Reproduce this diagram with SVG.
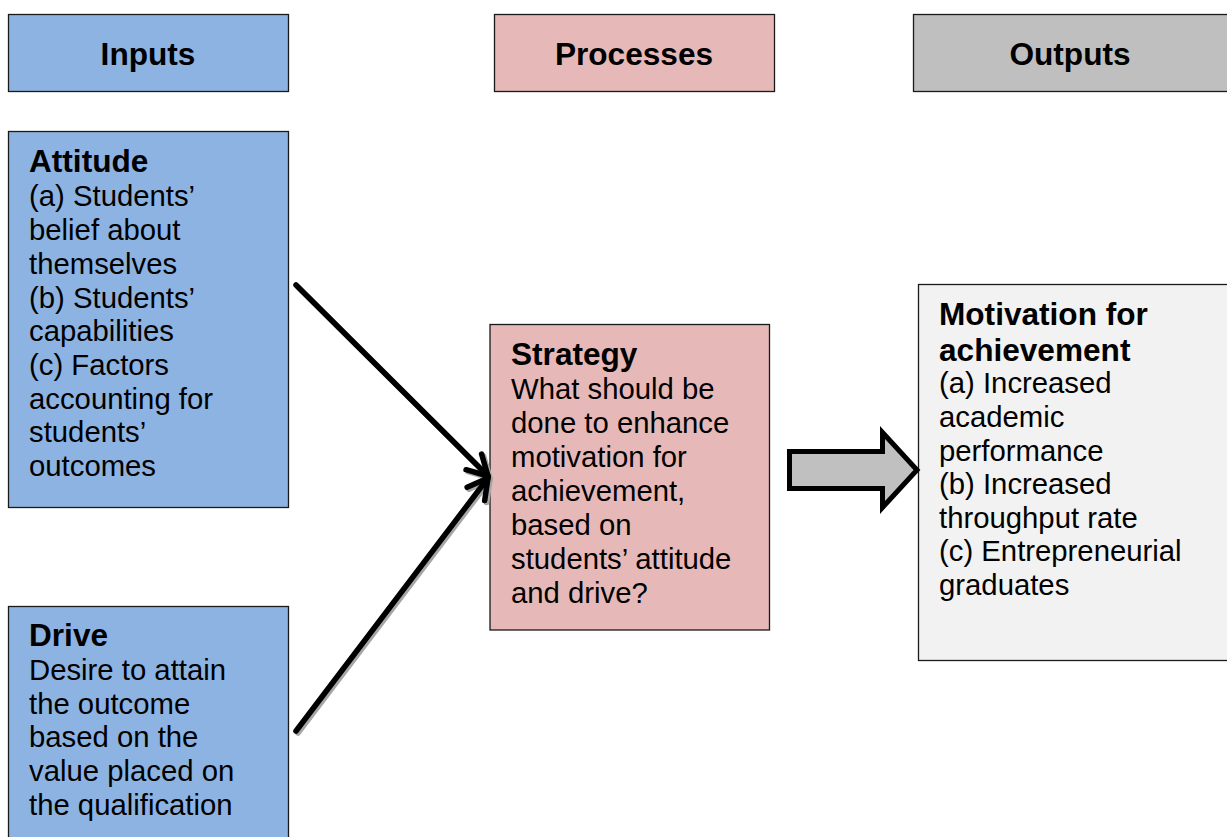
<svg xmlns="http://www.w3.org/2000/svg" width="1227" height="837" viewBox="0 0 1227 837">
<defs>
<style>
.box{stroke:#1a1a1a;stroke-width:1.3}
.t{font-family:"Liberation Sans",Arial,sans-serif;font-size:29.3px;fill:#000}
.b{font-weight:bold;font-size:31.6px}
.hd{font-family:"Liberation Sans",Arial,sans-serif;font-size:31.6px;font-weight:bold;fill:#000;text-anchor:middle}
.ln{fill:none;stroke:#000;stroke-width:5.5;stroke-linecap:round}
.sh{fill:none;stroke:#a6a6a6;stroke-width:5.5;stroke-linecap:round}
</style>
<marker id="ah" viewBox="-30 -20 40 40" markerWidth="40" markerHeight="40" refX="0" refY="0" markerUnits="userSpaceOnUse" orient="auto" overflow="visible">
<path d="M-20,-11 L0,0 L-20,11" fill="none" stroke="#000" stroke-width="5.5" stroke-linecap="round" stroke-linejoin="round"/>
</marker>
<marker id="ahs" viewBox="-30 -20 40 40" markerWidth="40" markerHeight="40" refX="0" refY="0" markerUnits="userSpaceOnUse" orient="auto" overflow="visible">
<path d="M-20,-11 L0,0 L-20,11" fill="none" stroke="#a6a6a6" stroke-width="5.5" stroke-linecap="round" stroke-linejoin="round"/>
</marker>
</defs>
<rect width="1227" height="837" fill="#fff"/>

<g id="inputs">
<rect class="box" x="8.5" y="14.5" width="280" height="77" fill="#8db3e2"/>
<text class="hd" x="148" y="65">Inputs</text>
</g>
<g id="processes">
<rect class="box" x="494.5" y="14.5" width="280" height="77" fill="#e6b9b8"/>
<text class="hd" x="634" y="65">Processes</text>
</g>
<g id="outputs">
<rect class="box" x="913.5" y="14.5" width="320" height="77" fill="#bfbfbf"/>
<text class="hd" x="1070" y="65">Outputs</text>
</g>

<g id="attitude">
<rect class="box" x="8.5" y="131.5" width="280" height="376" fill="#8db3e2"/>
<text class="t" x="29">
<tspan class="b" x="29" y="172">Attitude</tspan>
<tspan x="29" y="206">(a) Students’</tspan>
<tspan x="29" y="240">belief about</tspan>
<tspan x="29" y="274">themselves</tspan>
<tspan x="29" y="308">(b) Students’</tspan>
<tspan x="29" y="341">capabilities</tspan>
<tspan x="29" y="375">(c) Factors</tspan>
<tspan x="29" y="409">accounting for</tspan>
<tspan x="29" y="442">students’</tspan>
<tspan x="29" y="476">outcomes</tspan>
</text>
</g>

<g id="drive">
<rect class="box" x="8.5" y="606.5" width="280" height="240" fill="#8db3e2"/>
<text class="t">
<tspan class="b" x="29" y="646">Drive</tspan>
<tspan x="29" y="680">Desire to attain</tspan>
<tspan x="29" y="714">the outcome</tspan>
<tspan x="29" y="747">based on the</tspan>
<tspan x="29" y="781">value placed on</tspan>
<tspan x="29" y="815">the qualification</tspan>
</text>
</g>

<g id="strategy">
<rect class="box" x="490" y="324.5" width="279.5" height="305.5" fill="#e6b9b8" stroke="#404040"/>
<text class="t">
<tspan class="b" x="511" y="365">Strategy</tspan>
<tspan x="511" y="399">What should be</tspan>
<tspan x="511" y="433">done to enhance</tspan>
<tspan x="511" y="467">motivation for</tspan>
<tspan x="511" y="501">achievement,</tspan>
<tspan x="511" y="535">based on</tspan>
<tspan x="511" y="569">students’ attitude</tspan>
<tspan x="511" y="603">and drive?</tspan>
</text>
</g>

<g id="motivation">
<rect class="box" x="918.5" y="284.5" width="320" height="376" fill="#f2f2f2" stroke="#333"/>
<text class="t">
<tspan class="b" x="939" y="325">Motivation for</tspan>
<tspan class="b" x="939" y="361">achievement</tspan>
<tspan x="939" y="393">(a) Increased</tspan>
<tspan x="939" y="427">academic</tspan>
<tspan x="939" y="461">performance</tspan>
<tspan x="939" y="494">(b) Increased</tspan>
<tspan x="939" y="528">throughput rate</tspan>
<tspan x="939" y="561">(c) Entrepreneurial</tspan>
<tspan x="939" y="595">graduates</tspan>
</text>
</g>

<g id="connectors">
<g transform="translate(2,2)">
<line class="sh" x1="296" y1="285" x2="488" y2="476" marker-end="url(#ahs)"/>
<line class="sh" x1="296" y1="731" x2="488" y2="478" marker-end="url(#ahs)"/>
</g>
<line class="ln" x1="296" y1="285" x2="488" y2="476" marker-end="url(#ah)"/>
<line class="ln" x1="296" y1="731" x2="488" y2="478" marker-end="url(#ah)"/>
<path d="M789.5,451.5 L882.5,451.5 L882.5,432.5 L917,470 L882.5,507.5 L882.5,488.5 L789.5,488.5 Z" fill="#c0c0c0" stroke="#000" stroke-width="5" stroke-linejoin="miter"/>
</g>
</svg>
